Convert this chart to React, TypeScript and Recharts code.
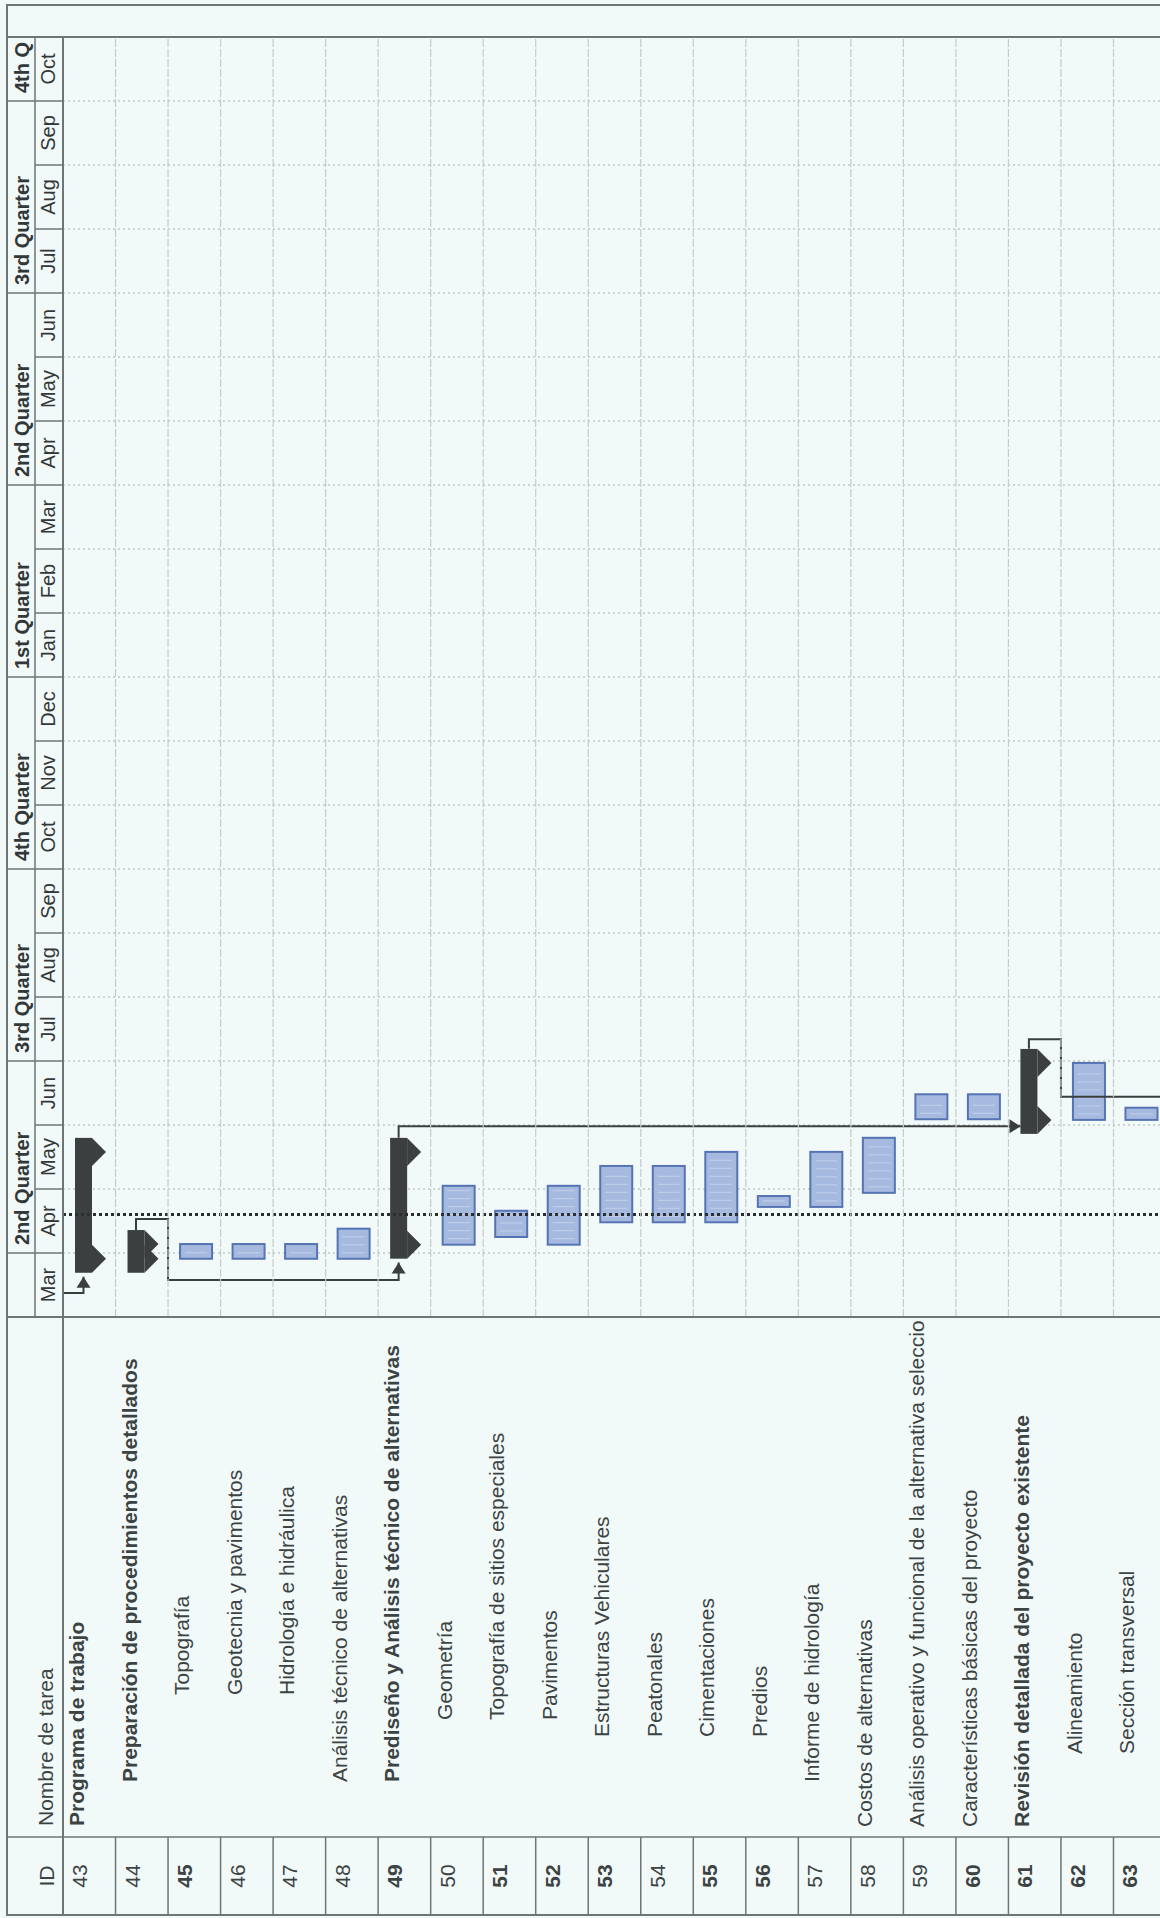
import React from 'react';
import { ComposedChart, Bar, XAxis, YAxis, CartesianGrid, ReferenceLine, Scatter } from 'recharts';

// Gantt data. Times are months counted from the start of the first March.
const TASK_IDS = ['43', '44', '45', '46', '47', '48', '49', '50', '51', '52', '53', '54', '55', '56', '57', '58', '59', '60', '61', '62', '63'];
const TASK_NAMES = [
  'Programa de trabajo',
  'Preparación de procedimientos detallados',
  'Topografía',
  'Geotecnia y pavimentos',
  'Hidrología e hidráulica',
  'Análisis técnico de alternativas',
  'Prediseño y Análisis técnico de alternativas',
  'Geometría',
  'Topografía de sitios especiales',
  'Pavimentos',
  'Estructuras Vehiculares',
  'Peatonales',
  'Cimentaciones',
  'Predios',
  'Informe de hidrología',
  'Costos de alternativas',
  'Análisis operativo y funcional de la alternativa seleccionada',
  'Características básicas del proyecto',
  'Revisión detallada del proyecto existente',
  'Alineamiento',
  'Sección transversal',
];
const TASK_KIND = ['summary', 'summary', 'task', 'task', 'task', 'task', 'summary', 'task', 'task', 'task', 'task', 'task', 'task', 'task', 'task', 'task', 'task', 'task', 'summary', 'task', 'task'];
const TASK_START = [0.91, 0.91, 0.91, 0.91, 0.91, 0.91, 1.13, 1.13, 1.25, 1.13, 1.48, 1.48, 1.48, 1.72, 1.72, 1.94, 3.09, 3.09, 3.08, 3.08, 3.08];
const TASK_END = [2.58, 1.14, 1.14, 1.14, 1.14, 1.38, 2.58, 2.05, 1.66, 2.05, 2.36, 2.36, 2.58, 1.89, 2.58, 2.8, 3.48, 3.48, 3.97, 3.97, 3.27];

const MONTH_LABELS = ['Mar', 'Apr', 'May', 'Jun', 'Jul', 'Aug', 'Sep', 'Oct', 'Nov', 'Dec', 'Jan', 'Feb', 'Mar', 'Apr', 'May', 'Jun', 'Jul', 'Aug', 'Sep', 'Oct'];
const QUARTER_STARTS = [0, 1, 4, 7, 10, 13, 16, 19];
const QUARTER_LABELS = ['', '2nd Quarter', '3rd Quarter', '4th Quarter', '1st Quarter', '2nd Quarter', '3rd Quarter', '4th Q'];

const STATUS_DATE = 1.6;

// dependency links: m = time, lane = row position (row i spans i..i+1)
const LINK_IN_43 = [
  { m: 0.375, lane: 0 },
  { m: 0.375, lane: 0.39 },
  { m: 0.63, lane: 0.39, arrow: 'right' },
];
const LINK_44_49 = [
  { m: 1.36, lane: 1.39 },
  { m: 1.53, lane: 1.39 },
  { m: 1.53, lane: 2 },
  { m: 0.58, lane: 2 },
  { m: 0.58, lane: 6.39 },
  { m: 0.85, lane: 6.39, arrow: 'right' },
];
const LINK_49_61 = [
  { m: 2.8, lane: 6.39 },
  { m: 2.98, lane: 6.39 },
  { m: 2.98, lane: 18.23, arrow: 'down' },
];
const LINK_61_OUT = [
  { m: 4.19, lane: 18.39 },
  { m: 4.34, lane: 18.39 },
  { m: 4.34, lane: 19 },
  { m: 3.44, lane: 19 },
  { m: 3.44, lane: 21 },
];

// layout (chart is drawn lying down, then turned a quarter turn)
const W = 1918;
const H = 1166;
const TOP = 7;
const HEADER_MID = 35;
const HEADER_BOTTOM = 63;
const TABLE_LEFT = 3;
const ID_RIGHT = 81;
const PLOT_LEFT = 601;
const PLOT_RIGHT = 1881;
const FRAME_RIGHT = 1913;
const MONTH_W = (PLOT_RIGHT - PLOT_LEFT) / MONTH_LABELS.length;
const ROW_H = (H - HEADER_BOTTOM) / TASK_IDS.length;
const CAP = 14;

const NAME_INDENT = [11, 55, 142, 142, 142, 55, 55, 117, 117, 117, 100, 100, 100, 100, 55, 10, 10, 10, 10, 83, 83];
const BOLD_NAMES = new Set(['43', '44', '49', '61']);
const DARK_IDS = new Set(['45', '49', '51', '52', '53', '55', '56', '60', '61', '62', '63']);

const BG = '#f2f9f9';
const FRAME = '#6e7575';
const TEXT = '#3c4343';
const HEAD_TEXT = '#323838';
const SUMMARY = '#3b3f3f';
const TASK_FILL = '#a6bae0';
const TASK_STROKE = '#5674b4';
const LINK = '#3a3e3e';
const FONT = "Arial, 'Liberation Sans', Helvetica, sans-serif";

const rows = TASK_IDS.map((id, i) => ({
  id,
  name: TASK_NAMES[i],
  kind: TASK_KIND[i],
  span: [TASK_START[i], TASK_END[i]],
}));

const monthTicks = MONTH_LABELS.map((_, i) => i).concat(MONTH_LABELS.length);

const TimeTick = (props: any) => {
  const { x, payload } = props;
  const i = payload.value as number;
  if (i >= MONTH_LABELS.length) return <g />;
  const q = QUARTER_STARTS.indexOf(i);
  return (
    <g>
      <line x1={x} x2={x} y1={HEADER_MID} y2={HEADER_BOTTOM} stroke={FRAME} strokeWidth={1.5} />
      <text x={x + MONTH_W / 2} y={HEADER_BOTTOM - 8} textAnchor="middle" fontSize={20} fill={HEAD_TEXT} fontFamily={FONT}>
        {MONTH_LABELS[i]}
      </text>
      {q >= 0 && (
        <g>
          <line x1={x} x2={x} y1={TOP} y2={HEADER_MID} stroke={FRAME} strokeWidth={1.5} />
          <text x={x + 8} y={HEADER_MID - 6} fontSize={20} fontWeight="bold" fill={HEAD_TEXT} fontFamily={FONT}>
            {QUARTER_LABELS[q]}
          </text>
        </g>
      )}
    </g>
  );
};

const RowTick = (props: any) => {
  const { y, payload } = props;
  const i = TASK_IDS.indexOf(String(payload.value));
  if (i < 0) return <g />;
  const id = TASK_IDS[i];
  const top = y - ROW_H / 2;
  const bottom = top + ROW_H;
  const clipId = `name-clip-${id}`;
  return (
    <g>
      <defs>
        <clipPath id={clipId}>
          <rect x={ID_RIGHT} y={top} width={PLOT_LEFT - ID_RIGHT - 2} height={ROW_H} />
        </clipPath>
      </defs>
      <line x1={TABLE_LEFT} x2={ID_RIGHT} y1={bottom} y2={bottom} stroke={FRAME} strokeWidth={1.5} />
      <line x1={PLOT_LEFT} x2={PLOT_RIGHT} y1={bottom} y2={bottom} stroke="#c6cbcb" strokeWidth={1.2} strokeDasharray="8 2" />
      <text
        x={(TABLE_LEFT + ID_RIGHT) / 2}
        y={top + 24}
        textAnchor="middle"
        fontSize={21}
        fontWeight={DARK_IDS.has(id) ? 'bold' : 'normal'}
        fill={TEXT}
        fontFamily={FONT}
      >
        {id}
      </text>
      <text
        x={ID_RIGHT + NAME_INDENT[i]}
        y={top + 21}
        fontSize={21}
        fontWeight={BOLD_NAMES.has(id) ? 'bold' : 'normal'}
        fill={TEXT}
        fontFamily={FONT}
        clipPath={`url(#${clipId})`}
      >
        {TASK_NAMES[i]}
      </text>
    </g>
  );
};

const GanttBar = (props: any) => {
  const { x, y, width, payload } = props;
  if (payload.kind === 'summary') {
    const xs = x;
    const xe = x + width;
    const y0 = y + 2;
    const y1 = y + 19;
    const tip = y1 + 14;
    return (
      <g fill={SUMMARY}>
        <rect x={xs - CAP} y={y0} width={xe - xs + 2 * CAP} height={y1 - y0} />
        <polygon points={`${xs - CAP},${y1} ${xs + CAP},${y1} ${xs},${tip}`} />
        <polygon points={`${xe - CAP},${y1} ${xe + CAP},${y1} ${xe},${tip}`} />
      </g>
    );
  }
  const top = y + 2;
  const h = 32;
  const hatch = [];
  for (let lx = x + 6; lx < x + width - 4; lx += 8) {
    hatch.push(<line key={lx} x1={lx} x2={lx} y1={top + 5} y2={top + h - 5} stroke="#c3d0ea" strokeWidth={1} />);
  }
  return (
    <g>
      <rect x={x} y={top} width={width} height={h} fill={TASK_FILL} stroke={TASK_STROKE} strokeWidth={2} />
      {hatch}
    </g>
  );
};

const LinkPoint = (props: any) => {
  const { cx, cy, payload } = props;
  if (payload.arrow === 'right') {
    return <polygon points={`${cx},${cy} ${cx - 11},${cy - 7} ${cx - 11},${cy + 7}`} fill={LINK} />;
  }
  if (payload.arrow === 'down') {
    return <polygon points={`${cx},${cy} ${cx - 7},${cy - 11} ${cx + 7},${cy - 11}`} fill={LINK} />;
  }
  return <g />;
};

const links = [LINK_IN_43, LINK_44_49, LINK_49_61, LINK_61_OUT];

export default function App() {
  return (
    <div style={{ position: 'absolute', left: 0, top: 0, width: 1160, height: 1918, overflow: 'hidden', background: BG, fontFamily: FONT }}>
      <div
        style={{
          position: 'absolute',
          left: 0,
          top: 0,
          width: W,
          height: H,
          transformOrigin: '0 0',
          transform: `translate(0px, ${W}px) rotate(-90deg)`,
        }}
      >
        <ComposedChart layout="vertical" width={W} height={H} data={rows} margin={{ top: TOP, right: W - PLOT_RIGHT, bottom: 0, left: 0 }}>
          <XAxis
            xAxisId="time"
            type="number"
            domain={[0, MONTH_LABELS.length]}
            ticks={monthTicks}
            interval={0}
            orientation="top"
            height={HEADER_BOTTOM - TOP}
            axisLine={false}
            tickLine={false}
            tick={TimeTick}
            allowDataOverflow
          />
          <XAxis xAxisId="linkX" type="number" dataKey="m" domain={[0, MONTH_LABELS.length]} hide allowDataOverflow />
          <YAxis
            yAxisId="rows"
            type="category"
            dataKey="id"
            width={PLOT_LEFT}
            interval={0}
            axisLine={false}
            tickLine={false}
            tick={RowTick}
          />
          <YAxis yAxisId="lane" type="number" dataKey="lane" domain={[0, TASK_IDS.length]} hide allowDataOverflow />
          <CartesianGrid xAxisId="time" yAxisId="rows" horizontal={false} stroke="#a9afaf" strokeDasharray="2 3" />
          <Bar xAxisId="time" yAxisId="rows" dataKey="span" barSize={32} shape={GanttBar} isAnimationActive={false} />
          {links.map((pts, k) => (
            <Scatter
              key={k}
              xAxisId="linkX"
              yAxisId="lane"
              data={pts}
              line={{ stroke: LINK, strokeWidth: 2 }}
              lineType="joint"
              shape={LinkPoint}
              isAnimationActive={false}
            />
          ))}
          <ReferenceLine xAxisId="time" yAxisId="rows" x={STATUS_DATE} stroke="#2b2e2e" strokeWidth={3} strokeDasharray="3 3" />
        </ComposedChart>
        <svg width={W} height={H} style={{ position: 'absolute', left: 0, top: 0, pointerEvents: 'none' }}>
          <rect x={TABLE_LEFT} y={TOP} width={FRAME_RIGHT - TABLE_LEFT} height={H + 10} fill="none" stroke={FRAME} strokeWidth={2} />
          <line x1={ID_RIGHT} x2={ID_RIGHT} y1={TOP} y2={H} stroke={FRAME} strokeWidth={1.5} />
          <line x1={PLOT_LEFT} x2={PLOT_LEFT} y1={TOP} y2={H} stroke={FRAME} strokeWidth={2} />
          <line x1={PLOT_RIGHT} x2={PLOT_RIGHT} y1={TOP} y2={H} stroke={FRAME} strokeWidth={2} />
          <line x1={TABLE_LEFT} x2={PLOT_RIGHT} y1={HEADER_BOTTOM} y2={HEADER_BOTTOM} stroke={FRAME} strokeWidth={2} />
          <line x1={PLOT_LEFT} x2={PLOT_RIGHT} y1={HEADER_MID} y2={HEADER_MID} stroke={FRAME} strokeWidth={1.5} />
          <text x={(TABLE_LEFT + ID_RIGHT) / 2} y={HEADER_BOTTOM - 9} textAnchor="middle" fontSize={21} fill={TEXT} fontFamily={FONT}>
            ID
          </text>
          <text x={ID_RIGHT + 11} y={HEADER_BOTTOM - 10} fontSize={21} fill={TEXT} fontFamily={FONT}>
            Nombre de tarea
          </text>
        </svg>
      </div>
    </div>
  );
}
